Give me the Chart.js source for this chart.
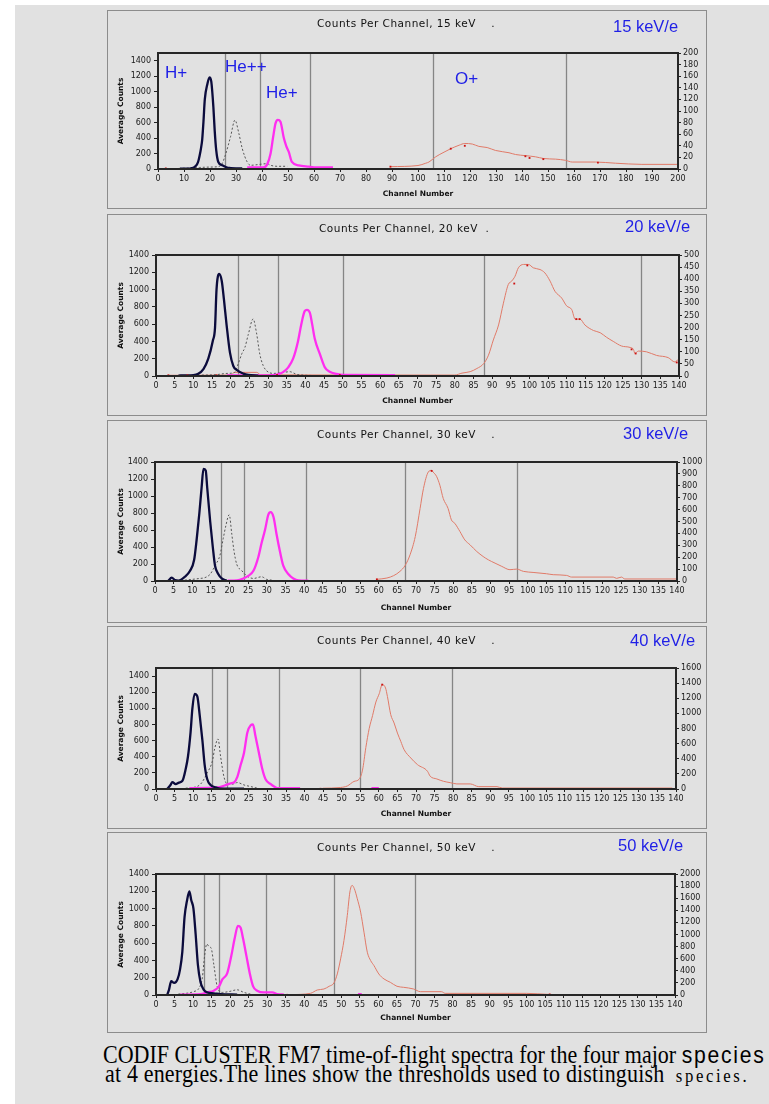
<!DOCTYPE html>
<html>
<head>
<meta charset="utf-8">
<script src="https://cdn.jsdelivr.net/npm/chart.js@4.4.1/dist/chart.umd.min.js"></script>
<style>
  html, body { margin: 0; padding: 0; background: #fff; }
  body { width: 769px; height: 1104px; position: relative; overflow: hidden; }
  #sheet { position: absolute; left: 15px; top: 5px; width: 754px; height: 1099px; background: #e1e1e1; }
  .box { position: absolute; left: 107px; width: 600px; border: 1px solid #8c8c8c; box-sizing: border-box; }
  canvas { position: absolute; }
  .t { position: absolute; white-space: pre; line-height: 1; }
  .title { font-family: "DejaVu Sans"; font-size: 10.5px; letter-spacing: 0.5px; color: #111; }
  .kev { font-family: "Liberation Sans"; font-size: 16.5px; color: #1f1fe6; }
  .sp { font-family: "Liberation Sans"; font-size: 17px; color: #1f1fe6; }
  .cap { font-family: "Liberation Serif"; font-size: 25px; color: #000; transform: scaleX(0.88); transform-origin: 0 0; }
</style>
</head>
<body>
<div id="sheet"></div>
<div id="stage"></div>
<div class="t cap" style="left:103px; top:1042px;">CODIF CLUSTER FM7 time-of-flight spectra for the four major <span style="font-family:'Liberation Sans'; font-size:24px; letter-spacing:2px;">species</span></div>
<div class="t cap" style="left:105px; top:1061px; letter-spacing:0.2px;">at 4 energies.The lines show the thresholds used to distinguish  <span style="font-size:19px; letter-spacing:3px;">species.</span></div>

<script>
// ---- Spectra: [channel, average counts] ----
// 15 keV/e
const hPlus15   = [[8.5,4],[10,5],[12,6],[13,10],[14,25],[15,60],[15.5,100],[16,170],[16.5,260],[17,380],[17.5,620],[18,900],[19,1100],[19.8,1185],[20.5,1130],[21.3,800],[21.8,500],[22.4,240],[23.2,90],[24.7,48],[26.6,17],[28,12],[30,9],[32.4,8]];
const he2Plus15 = [[8,8],[12,12],[16,20],[20,25],[23,30],[24.5,60],[26,190],[27.9,417],[29.6,633],[31.1,460],[32.4,265],[34.3,91],[35.6,48],[38.2,56],[42,69],[43.3,48],[45.8,35],[49.7,35]];
const hePlus15  = [[34.3,20],[40.5,22],[42,60],[43.3,200],[44.3,417],[45.2,590],[46.1,635],[47.1,612],[48.4,400],[49.3,300],[50.3,221],[51.5,91],[54.1,48],[58,30],[60,22],[67.3,22]];
const oPlus15   = [[89.4,4],[100,6],[103,10],[104.2,12],[106.8,21],[110,29],[112.6,35],[115.8,41],[118,44],[120.9,43],[123.4,39],[126.6,37],[129.8,32],[135,28],[137.5,25],[141.4,23],[145.2,21],[148.4,18],[152.9,17],[156.7,15],[159.3,12],[168.2,12],[175.9,10],[186.1,8],[199.6,8]];
const oMarks15  = [[3,1],[89.4,4],[112.6,35],[118,40],[141.3,22],[142.9,19],[148.2,17],[169.2,11]];
const cuts15    = [25.6, 39.3, 58.5, 105.9, 157.1];

// 20 keV/e
const hPlus20   = [[6,5],[8,7],[10,10],[11.3,25],[12.7,80],[14,200],[15.2,405],[15.8,560],[16.2,1000],[16.9,1180],[17.6,1100],[18.2,880],[18.9,590],[19.8,270],[20.7,116],[21.6,70],[23.4,27],[24.7,12],[27.4,5]];
const he2Plus20 = [[8,5],[12,10],[16,15],[19,30],[21,40],[22,140],[23,260],[23.8,330],[24.7,480],[26,660],[26.9,500],[27.8,250],[28.7,120],[29.6,60],[31.4,30],[34,40],[35.8,50],[37.6,20],[39.4,10],[43,5]];
const hePlus20  = [[19,8],[25,8],[30,8],[32,12],[33,25],[34,45],[35.4,100],[36.7,200],[38,400],[38.9,600],[39.8,750],[40.4,765],[41.2,730],[41.8,600],[42.5,430],[43.9,250],[45.2,100],[46.5,50],[48.3,25],[50.1,12],[64,10]];
const oPlus20   = [[3.3,3],[20,4],[21,15],[27,15],[28,5],[73.4,4],[80,4],[81.9,12],[84.1,18],[85.9,31],[87.7,51],[89,86],[90.3,149],[91.7,211],[93,301],[94.3,378],[95.2,392],[96.1,412],[97,447],[98.4,461],[99.7,461],[101,447],[102.8,440],[104.1,426],[105.5,392],[106.8,350],[108.6,322],[109.9,290],[111.3,274],[112.2,235],[113.5,235],[114.8,211],[117.1,188],[118.9,179],[120.6,160],[122.4,143],[124.6,124],[126.9,118],[127.8,110],[128.2,93],[129.1,103],[131.3,100],[134,85],[137.1,76],[138.9,58],[139.8,69]];
const oMarks20  = [[3.3,3],[8.4,3],[16.2,3],[32.4,4],[49.2,4],[95.9,382],[99.4,457],[112.5,235],[113.4,235],[127.3,110],[128.4,93],[139.4,56]];
const cuts20    = [22.0, 32.6, 50.0, 87.9, 129.7];

// 30 keV/e
const hPlus30   = [[3.5,0],[4.5,39],[5.4,10],[6.3,5],[8,50],[9.4,120],[10.5,250],[11.2,500],[11.9,800],[12.5,1100],[13,1320],[13.6,1300],[14,1100],[14.8,700],[15.5,400],[16.1,180],[17,80],[17.9,30],[19.2,5]];
const he2Plus30 = [[8,10],[12,30],[13.4,40],[14.8,80],[16.1,180],[17.4,300],[18.3,500],[19,650],[19.9,780],[20.6,550],[21.2,350],[21.9,200],[23.3,120],[24.6,60],[26.4,30],[28.6,50],[29.9,20],[31.3,10]];
const hePlus30  = [[19.5,5],[22,8],[23.7,30],[25,60],[26.4,120],[27.7,280],[28.6,450],[29.5,600],[30.4,780],[31,810],[31.8,750],[32.6,550],[33.5,350],[34.4,180],[35.8,80],[37.1,30],[38.5,8],[41.1,5]];
const oPlus30   = [[59.5,14],[62.2,25],[64,45],[65.7,81],[67.1,131],[68.4,220],[69.8,373],[71.1,610],[72,777],[73.3,916],[74.2,930],[74.6,915],[75.5,880],[76.4,805],[77.3,694],[78.6,610],[79.5,513],[80.4,485],[81.8,415],[83.1,345],[84.5,304],[86.3,248],[88,206],[89.4,178],[91.2,150],[93,123],[95.2,95],[97,100],[98.8,81],[101.4,72],[105,61],[106.8,53],[110.4,47],[111.7,33],[122.9,33],[123.8,22],[125.1,33],[126,17],[139.9,17]];
const oMarks30  = [[59.5,14],[74.2,925]];
const cuts30    = [17.7, 23.9, 40.4, 67.0, 97.0];

// 40 keV/e
const hPlus40   = [[3,0],[3.9,50],[4.4,86],[5.3,60],[6.2,80],[7.1,100],[8,250],[8.6,400],[9.3,700],[9.8,1000],[10.4,1180],[11.1,1150],[11.8,900],[12.5,600],[13.1,300],[13.8,120],[14.7,50],[16.1,20],[17.4,5],[23.7,5]];
const he2Plus40 = [[8,10],[10.2,20],[12,60],[13.8,200],[15.2,350],[15.8,500],[16.7,620],[17.4,400],[18.3,150],[19.2,60],[20.6,60],[21.9,80],[23.7,50],[25.5,30],[27.3,10]];
const hePlus40  = [[9,10],[16.5,20],[18.3,40],[20.1,70],[21,80],[21.9,150],[22.8,300],[23.7,450],[24.6,700],[25.5,790],[26.1,800],[26.8,650],[27.7,450],[28.6,250],[29.5,120],[30.9,60],[31.8,30],[32.7,10],[38.8,10],[39,null],[58,10],[60,10]];
const oPlus40   = [[44.9,10],[49.7,20],[51.5,40],[53.3,100],[54.7,130],[55.6,250],[56.5,550],[57.4,800],[58.3,970],[59.2,1150],[60.1,1260],[60.9,1380],[61.8,1335],[62.3,1225],[63.2,983],[64.1,873],[65,740],[65.9,630],[66.8,520],[68.6,410],[70.4,322],[73.1,234],[73.8,170],[75.6,133],[77.4,102],[79.2,84],[81,67],[84.6,67],[86.9,31],[91.8,31],[93.2,13],[139,13]];
const oMarks40  = [[3.5,0],[44.3,3],[60.9,1380]];
const cuts40    = [15.0, 19.0, 33.0, 54.8, 79.6];

// 50 keV/e
const hPlus50   = [[3,0],[3.5,60],[4.1,160],[4.9,140],[5.8,180],[6.5,300],[7.1,500],[7.7,900],[8.4,1100],[9,1200],[9.5,1100],[10.1,1000],[10.7,700],[11.3,350],[12,150],[12.9,60],[13.8,30],[15.6,20],[17.4,10],[21.9,5]];
const he2Plus50 = [[6,10],[10.2,40],[11.6,80],[12.5,200],[13.1,450],[13.7,590],[14.3,560],[14.9,540],[15.6,350],[16.5,100],[17.9,30],[19.7,40],[21.9,60],[23.7,30],[25.5,10]];
const hePlus50  = [[6.5,5],[12,10],[13.8,30],[15.6,50],[17,100],[17.9,180],[19.2,250],[20.3,450],[21.2,650],[22.1,800],[22.8,780],[23.5,650],[24.4,450],[25.3,250],[26.2,100],[27.3,50],[29.1,30],[31.4,30],[32.7,10],[34.5,5],[34.6,null],[54.5,10],[55.5,10]];
const oPlus50   = [[36,5],[41.7,28],[43.5,83],[45.3,99],[46.7,144],[48,199],[48.9,348],[49.8,597],[50.7,900],[51.6,1315],[52.3,1702],[52.9,1812],[53.5,1757],[54.3,1591],[55.2,1370],[56.1,1039],[57,707],[57.9,569],[58.8,486],[60.1,348],[61.5,265],[63.2,210],[65,144],[66.8,127],[69.5,99],[71.3,55],[77,55],[78,27],[100,27],[106,10],[108.6,5]];
const oMarks50  = [[3.5,0],[35.4,3],[38.3,3],[106.2,10]];
const cuts50    = [12.9, 16.9, 29.8, 48.0, 69.9];

// ---- Axes ----
const energyLabels = ['15 keV/e', '20 keV/e', '30 keV/e', '40 keV/e', '50 keV/e'];
const chartTitles  = ['Counts Per Channel, 15 keV    .', 'Counts Per Channel, 20 keV  .', 'Counts Per Channel, 30 keV    .', 'Counts Per Channel, 40 keV    .', 'Counts Per Channel, 50 keV    .'];
const channelMax   = [200, 140, 140, 140, 140];
const channelStep  = [10, 5, 5, 5, 5];
const countMax     = [1500, 1400, 1400, 1500, 1400];
const countStep    = 200;
const oxygenMax    = [200, 500, 1000, 1600, 2000];
const oxygenStep   = [20, 50, 100, 200, 200];
const speciesNames = ['H+', 'He++', 'He+', 'O+'];

const series = [
  [hPlus15, he2Plus15, hePlus15, oPlus15, oMarks15, cuts15],
  [hPlus20, he2Plus20, hePlus20, oPlus20, oMarks20, cuts20],
  [hPlus30, he2Plus30, hePlus30, oPlus30, oMarks30, cuts30],
  [hPlus40, he2Plus40, hePlus40, oPlus40, oMarks40, cuts40],
  [hPlus50, he2Plus50, hePlus50, oPlus50, oMarks50, cuts50]
];

// ---- Page layout (px) ----
const boxes = [ // box top, box bottom, plot left, top, right, bottom
  {top: 10,  bottom: 208,  plot: [158, 53, 678, 169]},
  {top: 214, bottom: 415,  plot: [156, 255, 679, 376]},
  {top: 420, bottom: 622,  plot: [155, 462, 677, 581]},
  {top: 626, bottom: 828,  plot: [156, 668, 676, 789]},
  {top: 832, bottom: 1032, plot: [156, 874, 675, 995]}
];
const titlePos = [[317, 18], [319, 223], [317, 429], [317, 635], [317, 842]];
const kevPos   = [[613, 18], [625, 218], [623, 425], [630, 632], [618, 837]];
const speciesPos = [[165, 64], [225, 58], [266, 84], [455, 70]];

const TICK_FONT = {family: 'DejaVu Sans', size: 8};
const AXIS_FONT = {family: 'DejaVu Sans', size: 7.5, weight: 'bold'};
const plainNumber = v => String(v);

const panelDecor = {
  id: 'panelDecor',
  beforeDatasetsDraw(chart, args, opts) {
    const {ctx, chartArea: {top, bottom}, scales: {x}} = chart;
    ctx.save();
    ctx.strokeStyle = '#858585';
    ctx.lineWidth = 1.3;
    (opts.cuts || []).forEach(c => {
      const px = Math.round(x.getPixelForValue(c)) + 0.5;
      ctx.beginPath();
      ctx.moveTo(px, top);
      ctx.lineTo(px, bottom);
      ctx.stroke();
    });
    ctx.restore();
  },
  afterDatasetsDraw(chart) {
    const {ctx, chartArea: {left, top, right, bottom}} = chart;
    ctx.save();
    ctx.strokeStyle = '#262626';
    ctx.lineWidth = 2;
    ctx.strokeRect(left, top, right - left, bottom - top);
    ctx.restore();
  }
};

const toPts = arr => arr.map(([x, y]) => ({x, y}));
const stage = document.getElementById('stage');

function addText(cls, text, left, top) {
  const d = document.createElement('div');
  d.className = 't ' + cls;
  d.textContent = text;
  d.style.left = left + 'px';
  d.style.top = top + 'px';
  stage.appendChild(d);
}

boxes.forEach((b, i) => {
  const box = document.createElement('div');
  box.className = 'box';
  box.style.top = b.top + 'px';
  box.style.height = (b.bottom - b.top + 1) + 'px';
  stage.appendChild(box);

  const cx = 108, cy = b.top + 1, cw = 598, ch = b.bottom - b.top - 1;
  const [pl, pt, pr, pb] = b.plot;
  const cv = document.createElement('canvas');
  cv.width = cw; cv.height = ch;
  cv.style.left = cx + 'px'; cv.style.top = cy + 'px';
  cv.style.width = cw + 'px'; cv.style.height = ch + 'px';
  stage.appendChild(cv);

  const [h, he2, he, o, marks, cuts] = series[i];
  const leftW = pl - cx, rightW = cx + cw - pr, bottomH = cy + ch - pb;

  new Chart(cv, {
    type: 'line',
    data: {
      datasets: [
        {label: 'O+ samples', data: toPts(marks), yAxisID: 'yO', showLine: false,
         pointStyle: 'rect', pointRadius: 1.3, pointBackgroundColor: '#cc1111', pointBorderWidth: 0},
        {label: speciesNames[0], data: toPts(h), yAxisID: 'y', borderColor: '#0b0b3c', borderWidth: 2.3},
        {label: speciesNames[2], data: toPts(he), yAxisID: 'y', borderColor: '#ff2ef0', borderWidth: 2.3},
        {label: speciesNames[1], data: toPts(he2), yAxisID: 'y', borderColor: '#555', borderWidth: 1, borderDash: [2, 2]},
        {label: speciesNames[3], data: toPts(o), yAxisID: 'yO', borderColor: '#e07a68', borderWidth: 1}
      ]
    },
    options: {
      responsive: false,
      animation: false,
      devicePixelRatio: 1,
      layout: {padding: {top: pt - cy, left: 0, right: 0, bottom: 0}},
      elements: {point: {radius: 0}, line: {cubicInterpolationMode: 'monotone', fill: false}},
      plugins: {legend: {display: false}, tooltip: {enabled: false}, panelDecor: {cuts}},
      scales: {
        x: {
          type: 'linear', min: 0, max: channelMax[i],
          afterFit: s => { s.height = bottomH; },
          ticks: {stepSize: channelStep[i], autoSkip: false, maxRotation: 0, minRotation: 0, font: TICK_FONT, color: '#1a1a1a', padding: 2, callback: plainNumber},
          grid: {display: true, drawOnChartArea: false, drawTicks: true, tickLength: 3, color: '#222'},
          border: {display: false},
          title: {display: true, text: 'Channel Number', font: AXIS_FONT, color: '#111', padding: {top: 0, bottom: 9}}
        },
        y: {
          position: 'left', min: 0, max: countMax[i],
          afterFit: s => { s.width = leftW; },
          ticks: {stepSize: countStep, includeBounds: false, autoSkip: false, font: TICK_FONT, color: '#1a1a1a', padding: 3, callback: plainNumber},
          grid: {display: true, drawOnChartArea: false, drawTicks: true, tickLength: 4, color: '#222'},
          border: {display: false},
          title: {display: true, text: 'Average Counts', font: AXIS_FONT, color: '#111', padding: {top: 9, bottom: 0}}
        },
        yO: {
          position: 'right', min: 0, max: oxygenMax[i],
          afterFit: s => { s.width = rightW; },
          ticks: {stepSize: oxygenStep[i], autoSkip: false, font: TICK_FONT, color: '#1a1a1a', padding: 2, callback: plainNumber},
          grid: {display: true, drawOnChartArea: false, drawTicks: true, tickLength: 3, color: '#222'},
          border: {display: false}
        }
      }
    },
    plugins: [panelDecor]
  });

  addText('title', chartTitles[i], titlePos[i][0], titlePos[i][1]);
  addText('kev', energyLabels[i], kevPos[i][0], kevPos[i][1]);
  if (i === 0) {
    speciesNames.forEach((s, k) => addText('sp', s, speciesPos[k][0], speciesPos[k][1]));
  }
});
</script>
</body>
</html>
